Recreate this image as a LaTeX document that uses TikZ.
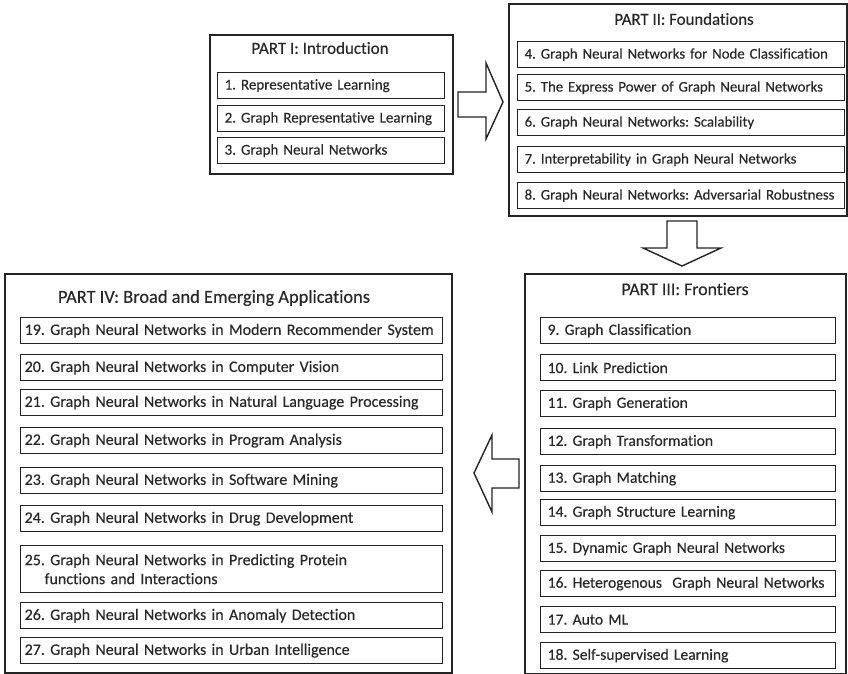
\documentclass[tikz,border=0pt]{standalone}
\usepackage{fontspec}
\setmainfont{Carlito}[Ligatures=NoCommon,FakeBold=0.3]
\frenchspacing
\definecolor{ink}{RGB}{35,35,35}
\definecolor{txt}{RGB}{40,40,40}
\begin{document}
\begin{tikzpicture}[x=1pt,y=-1pt,
  outer/.style={draw=ink,line width=2.2pt,anchor=north west,inner sep=0pt},
  item/.style={draw=ink,line width=1.3pt,anchor=north west,inner xsep=7pt,inner ysep=0pt,
    minimum height=26pt,align=left,font=\fontsize{15}{17}\selectfont,text=txt,
    execute at begin node={\hyphenpenalty=10000\exhyphenpenalty=10000\hbadness=10000\hfuzz=20pt}},
  itemII/.style={item,text width=313pt,font=\fontsize{14.8}{17}\selectfont},
  itemIII/.style={item,text width=281pt,font=\fontsize{15.6}{18}\selectfont},
  itemIV/.style={item,text width=414pt,inner xsep=4pt,font=\fontsize{16}{19}\selectfont},
  title/.style={font=\fontsize{16.5}{18}\selectfont,text=txt,inner sep=0pt},
  blockarrow/.style={draw=ink,line width=1.4pt,fill=white,line join=miter}]
\useasboundingbox (0,0) rectangle (848,674);
% PART I
\node[outer,minimum width=243pt,minimum height=139pt] (p1) at (209,34) {};
\node[title,font=\fontsize{17}{19}\selectfont] (t1) at (320,48) {PART I: Introduction};
\node[item,text width=213pt] (i1) at (217,72) {1. Representative Learning};
\node[item,text width=213pt] (i2) at (217,105) {2. Graph Representative Learning};
\node[item,text width=213pt] (i3) at (217,137) {3. Graph Neural Networks};
% PART II
\node[outer,minimum width=338pt,minimum height=212pt] (p2) at (508,3) {};
\node[title,font=\fontsize{16.8}{19}\selectfont] (t2) at (684,19) {PART II: Foundations};
\node[itemII] (i4) at (517,41) {4. Graph Neural Networks for Node Classification};
\node[itemII] (i5) at (517,74) {5. The Express Power of Graph Neural Networks};
\node[itemII] (i6) at (517,109) {6. Graph Neural Networks: Scalability};
\node[itemII] (i7) at (517,146) {7. Interpretability in Graph Neural Networks};
\node[itemII] (i8) at (517,182) {\mbox{8. Graph Neural Networks: Adversarial Robustness}};
% PART III
\node[outer,minimum width=321pt,minimum height=400pt] (p3) at (524,273) {};
\node[title,font=\fontsize{17.8}{20}\selectfont] (t3) at (685,289) {PART III: Frontiers};
\node[itemIII] (i9) at (540,317) {9. Graph Classification};
\node[itemIII] (i10) at (540,354) {10. Link Prediction};
\node[itemIII] (i11) at (540,390) {11. Graph Generation};
\node[itemIII] (i12) at (540,428) {12. Graph Transformation};
\node[itemIII] (i13) at (540,465) {13. Graph Matching};
\node[itemIII] (i14) at (540,499) {14. Graph Structure Learning};
\node[itemIII] (i15) at (540,535) {15. Dynamic Graph Neural Networks};
\node[itemIII] (i16) at (540,570) {16. Heterogenous\ \ Graph Neural Networks};
\node[itemIII] (i17) at (540,606) {17. Auto ML};
\node[itemIII] (i18) at (540,642) {18. Self-supervised Learning};
% PART IV
\node[outer,minimum width=447pt,minimum height=399pt] (p4) at (4,273) {};
\node[title,font=\fontsize{18.4}{21}\selectfont] (t4) at (214,298) {PART IV: Broad and Emerging Applications};
\node[itemIV] (i19) at (20,317) {19. Graph Neural Networks in Modern Recommender System};
\node[itemIV] (i20) at (20,354) {20. Graph Neural Networks in Computer Vision};
\node[itemIV] (i21) at (20,389) {21. Graph Neural Networks in Natural Language Processing};
\node[itemIV] (i22) at (20,427) {22. Graph Neural Networks in Program Analysis};
\node[itemIV] (i23) at (20,467) {23. Graph Neural Networks in Software Mining};
\node[itemIV] (i24) at (20,505) {24. Graph Neural Networks in Drug Development};
\node[itemIV,minimum height=47pt] (i25) at (20,545) {25. Graph Neural Networks in Predicting Protein\\\hspace*{20pt}functions and Interactions};
\node[itemIV] (i26) at (20,602) {26. Graph Neural Networks in Anomaly Detection};
\node[itemIV] (i27) at (20,637) {27. Graph Neural Networks in Urban Intelligence};
% block arrows
\draw[blockarrow] (458,92) -- (486,92) -- (486,63) -- (503,102) -- (486,139) -- (486,117) -- (458,117) -- cycle;
\draw[blockarrow] (667,221) -- (697,221) -- (697,248) -- (721,248) -- (682,266) -- (643,248) -- (667,248) -- cycle;
\draw[blockarrow] (519,459) -- (492,459) -- (492,435) -- (474,473) -- (492,512) -- (492,488) -- (519,488) -- cycle;
\end{tikzpicture}
\end{document}
